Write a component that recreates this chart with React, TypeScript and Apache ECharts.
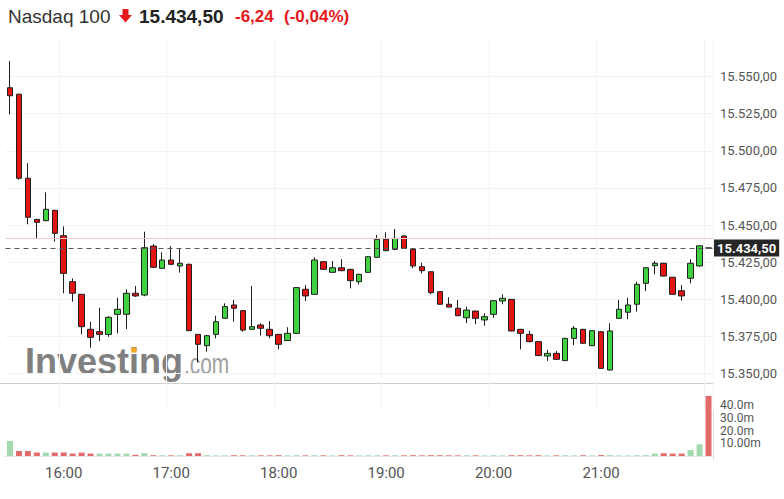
import React, { useEffect, useRef } from "react";
import * as echarts from "echarts";

// 5-minute bars, 15:30 .. 22:00
const times: string[] = (() => {
  const out: string[] = [];
  for (let m = 15 * 60 + 30; m <= 22 * 60; m += 5) {
    out.push(`${Math.floor(m / 60)}:${String(m % 60).padStart(2, "0")}`);
  }
  return out;
})();

const opens = [
  15542.5, 15538.1, 15481.5, 15453.8, 15452.9, 15459.9, 15442.8, 15411.8, 15403.3, 15379.7,
  15378.1, 15376.3, 15389.8, 15389.8, 15404.0, 15402.8, 15435.8, 15420.8, 15426.4, 15422.4,
  15423.5, 15376.3, 15368.7, 15376.3, 15387.1, 15396.1, 15392.3, 15379.7, 15382.6, 15379.7,
  15376.3, 15372.1, 15377.0, 15406.7, 15403.3, 15425.3, 15418.1, 15421.2, 15420.1, 15411.8,
  15418.1, 15428.2, 15440.4, 15433.6, 15442.6, 15433.6, 15421.9, 15418.5, 15405.1, 15396.6,
  15393.9, 15387.5, 15392.0, 15386.0, 15389.8, 15398.8, 15399.9, 15379.7, 15376.3, 15371.4,
  15361.7, 15363.5, 15358.6, 15373.6, 15379.7, 15368.7, 15378.1, 15352.3, 15387.1, 15391.2,
  15396.6, 15410.7, 15422.6, 15424.2, 15414.8, 15405.7, 15414.1, 15422.4, 15434.5,
];
const closes = [
  15537.1, 15481.5, 15455.2, 15451.8, 15460.6, 15444.4, 15417.4, 15404.0, 15381.5, 15374.3,
  15376.3, 15387.8, 15393.2, 15404.0, 15402.2, 15434.7, 15421.5, 15426.4, 15423.5, 15424.2,
  15378.8, 15369.6, 15375.4, 15384.8, 15395.0, 15393.9, 15379.2, 15381.5, 15380.4, 15375.4,
  15369.6, 15377.0, 15407.8, 15402.2, 15426.4, 15420.1, 15421.2, 15419.2, 15412.5, 15416.8,
  15428.6, 15440.4, 15432.7, 15441.0, 15434.3, 15422.4, 15419.2, 15404.4, 15396.6, 15394.7,
  15388.9, 15392.7, 15387.1, 15388.2, 15399.0, 15400.6, 15378.6, 15377.0, 15371.4, 15362.0,
  15363.5, 15359.5, 15373.6, 15380.4, 15370.3, 15378.8, 15353.4, 15378.6, 15393.2, 15396.1,
  15410.0, 15421.2, 15424.2, 15415.6, 15403.3, 15402.2, 15424.2, 15436.0, 15434.5,
];
const lows = [
  15524.6, 15480.5, 15450.5, 15441.0, 15452.5, 15438.8, 15404.0, 15398.3, 15376.3, 15367.3,
  15371.8, 15374.7, 15377.0, 15379.9, 15401.5, 15402.0, 15421.0, 15420.5, 15423.0, 15417.9,
  15378.5, 15357.5, 15364.6, 15373.6, 15387.0, 15384.8, 15378.1, 15379.5, 15375.4, 15373.6,
  15366.2, 15372.0, 15376.5, 15398.8, 15403.0, 15420.0, 15418.0, 15419.0, 15407.3, 15410.0,
  15418.0, 15428.0, 15432.5, 15433.0, 15434.0, 15420.8, 15417.4, 15403.3, 15396.3, 15394.5,
  15388.7, 15383.8, 15383.1, 15382.1, 15387.5, 15396.6, 15378.4, 15366.2, 15371.0, 15361.8,
  15358.4, 15359.3, 15358.4, 15369.1, 15370.0, 15368.5, 15353.0, 15352.0, 15387.0, 15386.5,
  15391.6, 15405.5, 15416.8, 15415.4, 15403.0, 15399.0, 15410.7, 15422.0, 15434.5,
];
const highs = [
  15560.5, 15538.5, 15491.6, 15454.0, 15472.0, 15460.2, 15449.1, 15414.0, 15403.5, 15384.8,
  15394.3, 15388.5, 15401.0, 15406.7, 15408.9, 15445.5, 15437.2, 15431.6, 15435.8, 15434.3,
  15424.0, 15376.5, 15376.0, 15388.9, 15397.2, 15399.5, 15392.5, 15408.9, 15383.8, 15385.3,
  15376.5, 15381.1, 15408.0, 15409.6, 15428.2, 15425.5, 15425.7, 15426.9, 15420.5, 15417.0,
  15429.0, 15443.3, 15445.1, 15447.3, 15443.0, 15434.0, 15424.6, 15418.7, 15405.3, 15401.3,
  15399.5, 15395.0, 15392.2, 15390.5, 15399.2, 15403.3, 15400.0, 15380.0, 15378.6, 15371.6,
  15365.8, 15365.1, 15374.0, 15381.9, 15380.0, 15379.0, 15378.5, 15383.8, 15399.5, 15401.0,
  15411.8, 15421.5, 15425.7, 15424.5, 15415.0, 15409.6, 15426.9, 15436.2, 15434.5,
];
// volume in millions
const volumes = [
  11.8, 3.9, 3.9, 2.7, 2.7, 2.7, 2.7, 1.9, 2.7, 1.9,
  1.9, 1.9, 1.9, 1.9, 0.9, 2.3, 0.6, 0.6, 0.5, 0.6,
  2.2, 2.2, 0.6, 0.5, 0.5, 0.6, 0.5, 0.6, 0.5, 0.5,
  0.6, 0.5, 0.7, 0.5, 0.6, 0.5, 0.5, 0.6, 0.5, 0.5,
  0.6, 0.6, 0.5, 0.6, 0.5, 0.6, 0.5, 0.6, 0.6, 0.5,
  0.5, 0.6, 0.5, 0.5, 0.6, 0.5, 0.6, 0.6, 0.5, 0.6,
  0.5, 0.5, 0.6, 0.5, 0.6, 0.5, 0.7, 0.7, 0.5, 0.5,
  0.6, 0.7, 1.9, 2.2, 1.9, 1.9, 4.7, 9.2, 47.4,
];

const lastPrice = 15434.5;
const prevClose = 15440.74;
const priceTicks = [15350, 15375, 15400, 15425, 15450, 15475, 15500, 15525, 15550];
const volumeTicks = [10, 20, 30, 40];
const volumeTickLabels = ["10.00m", "20.0m", "30.0m", "40.0m"];

const titleName = "Nasdaq 100";
const titlePrice = "15.434,50";
const titleChange = "-6,24";
const titlePct = "(-0,04%)";

function fmtPrice(v: number): string {
  const [i, d] = v.toFixed(2).split(".");
  return i.replace(/\B(?=(\d{3})+(?!\d))/g, ".") + "," + d;
}

const GREEN = "#3fd13f";
const RED = "#e31414";
const VOL_GREEN = "#a3d9b1";
const VOL_RED = "#e36a6a";

export default function App() {
  const ref = useRef<HTMLDivElement>(null);

  useEffect(() => {
    if (!ref.current) return;
    const chart = echarts.init(ref.current, undefined, { renderer: "svg" });

    const candleData = times.map((_, i) => [opens[i], closes[i], lows[i], highs[i]]);
    const volData = volumes.map((v, i) => ({
      value: v,
      itemStyle: { color: i === 0 || closes[i] >= closes[i - 1] ? VOL_GREEN : VOL_RED },
    }));

    const splitColors = [15325, ...priceTicks, 15575].map((v) =>
      priceTicks.includes(v) ? "#f3f3f3" : "rgba(0,0,0,0)"
    );

    chart.setOption({
      animation: false,
      backgroundColor: "#ffffff",
      grid: [
        { left: 5.5, right: 71, top: 39.5, height: 371 },
        { left: 5.5, right: 71, top: 385, height: 71 },
      ],
      xAxis: [
        {
          type: "category",
          gridIndex: 0,
          data: times,
          boundaryGap: true,
          axisLine: { show: false },
          axisTick: { show: false },
          axisLabel: { show: false },
          splitLine: {
            show: true,
            interval: (_i: number, v: string) => v.endsWith(":00"),
            lineStyle: { color: "#f3f3f3" },
          },
        },
        {
          type: "category",
          gridIndex: 1,
          data: times,
          boundaryGap: true,
          axisLine: { show: true, lineStyle: { color: "#e3e3e3" } },
          axisTick: { show: false },
          axisLabel: {
            interval: (_i: number, v: string) => v.endsWith(":00") && v !== "22:00",
            fontFamily: "Roboto",
            fontSize: 15,
            color: "#555",
            margin: 9,
          },
          splitLine: { show: false },
        },
      ],
      yAxis: [
        {
          type: "value",
          gridIndex: 0,
          position: "right",
          min: 15325,
          max: 15575,
          interval: 25,
          axisLine: { show: false },
          axisTick: { show: false },
          axisLabel: {
            margin: 7,
            fontFamily: "Roboto",
            fontSize: 13,
            color: "#555",
            formatter: (v: number) => (priceTicks.includes(v) ? fmtPrice(v) : ""),
          },
          splitLine: { show: true, lineStyle: { color: splitColors } },
        },
        {
          type: "value",
          gridIndex: 1,
          position: "right",
          min: 0,
          max: 56,
          interval: 10,
          axisLine: { show: false },
          axisTick: { show: false },
          splitLine: { show: false },
          axisLabel: {
            margin: 7,
            fontFamily: "Roboto",
            fontSize: 12,
            color: "#555",
            formatter: (v: number) => {
              const k = volumeTicks.indexOf(v);
              return k >= 0 ? volumeTickLabels[k] : "";
            },
          },
        },
      ],
      graphic: [
        {
          type: "text",
          x: 25,
          y: 361,
          z: -10,
          style: {
            text: "Investing",
            fontFamily: '"Liberation Sans", Arial, sans-serif',
            fontWeight: "bold",
            fontSize: 36,
            fill: "#808080",
            verticalAlign: "middle",
          },
        },
        {
          type: "rect",
          z: -9,
          shape: { x: 131.3, y: 347.5, width: 5.4, height: 5.1 },
          style: { fill: "#f5a524" },
        },
        {
          type: "text",
          x: 184,
          y: 363.3,
          z: -10,
          scaleX: 0.72,
          style: {
            text: ".com",
            fontFamily: '"Liberation Sans", Arial, sans-serif',
            fontSize: 29,
            fill: "#a0a0a0",
            verticalAlign: "middle",
          },
        },
        {
          type: "line",
          shape: { x1: 0, y1: 383.5, x2: 713, y2: 383.5 },
          style: { stroke: "#cfcfcf", lineWidth: 1 },
        },
        {
          type: "line",
          shape: { x1: 713.5, y1: 47, x2: 713.5, y2: 460 },
          style: { stroke: "#dcdcdc", lineWidth: 1 },
        },
        {
          type: "text",
          x: 8,
          y: 16.1,
          style: {
            text: titleName,
            fontFamily: '"Liberation Sans", Arial, sans-serif',
            fontSize: 19,
            fill: "#333",
            verticalAlign: "middle",
          },
        },
        {
          type: "polygon",
          shape: {
            points: [
              [122.5, 9],
              [128.5, 9],
              [128.5, 15],
              [132, 15],
              [125.5, 22.5],
              [119, 15],
              [122.5, 15],
            ],
          },
          style: { fill: "#e3191b" },
        },
        {
          type: "text",
          x: 139,
          y: 16.1,
          style: {
            text: titlePrice,
            fontFamily: '"Liberation Sans", Arial, sans-serif',
            fontWeight: "bold",
            fontSize: 19,
            fill: "#222",
            verticalAlign: "middle",
          },
        },
        {
          type: "text",
          x: 235,
          y: 16.8,
          style: {
            text: titleChange,
            fontFamily: '"Liberation Sans", Arial, sans-serif',
            fontWeight: "bold",
            fontSize: 17,
            fill: "#e3191b",
            verticalAlign: "middle",
          },
        },
        {
          type: "text",
          x: 284,
          y: 16.8,
          style: {
            text: titlePct,
            fontFamily: '"Liberation Sans", Arial, sans-serif',
            fontWeight: "bold",
            fontSize: 17,
            fill: "#e3191b",
            verticalAlign: "middle",
          },
        },
      ],
      series: [
        {
          type: "candlestick",
          xAxisIndex: 0,
          yAxisIndex: 0,
          data: candleData,
          barWidth: 6,
          itemStyle: {
            color: GREEN,
            color0: RED,
            borderColor: "#1e1e1e",
            borderColor0: "#1e1e1e",
            borderWidth: 1,
          },
          markLine: {
            silent: true,
            symbol: ["none", "none"],
            data: [
              {
                yAxis: prevClose,
                lineStyle: { color: "#f3c6cc", type: "solid", width: 1 },
                label: { show: false },
              },
              {
                yAxis: lastPrice,
                lineStyle: { color: "#555", type: [5, 4], width: 1 },
                label: {
                  show: true,
                  position: "end",
                  distance: 1,
                  formatter: fmtPrice(lastPrice),
                  backgroundColor: "#262626",
                  color: "#fff",
                  fontFamily: "Roboto",
                  fontWeight: "bold",
                  fontSize: 13,
                  padding: [2, 3, 2, 3],
                },
              },
            ],
          },
        },
        {
          type: "bar",
          xAxisIndex: 1,
          yAxisIndex: 1,
          data: volData,
          barWidth: 6,
        },
      ],
    });

    return () => chart.dispose();
  }, []);

  return (
    <div
      ref={ref}
      style={{ position: "fixed", left: 0, top: 0, width: 784, height: 499, background: "#fff" }}
    />
  );
}
